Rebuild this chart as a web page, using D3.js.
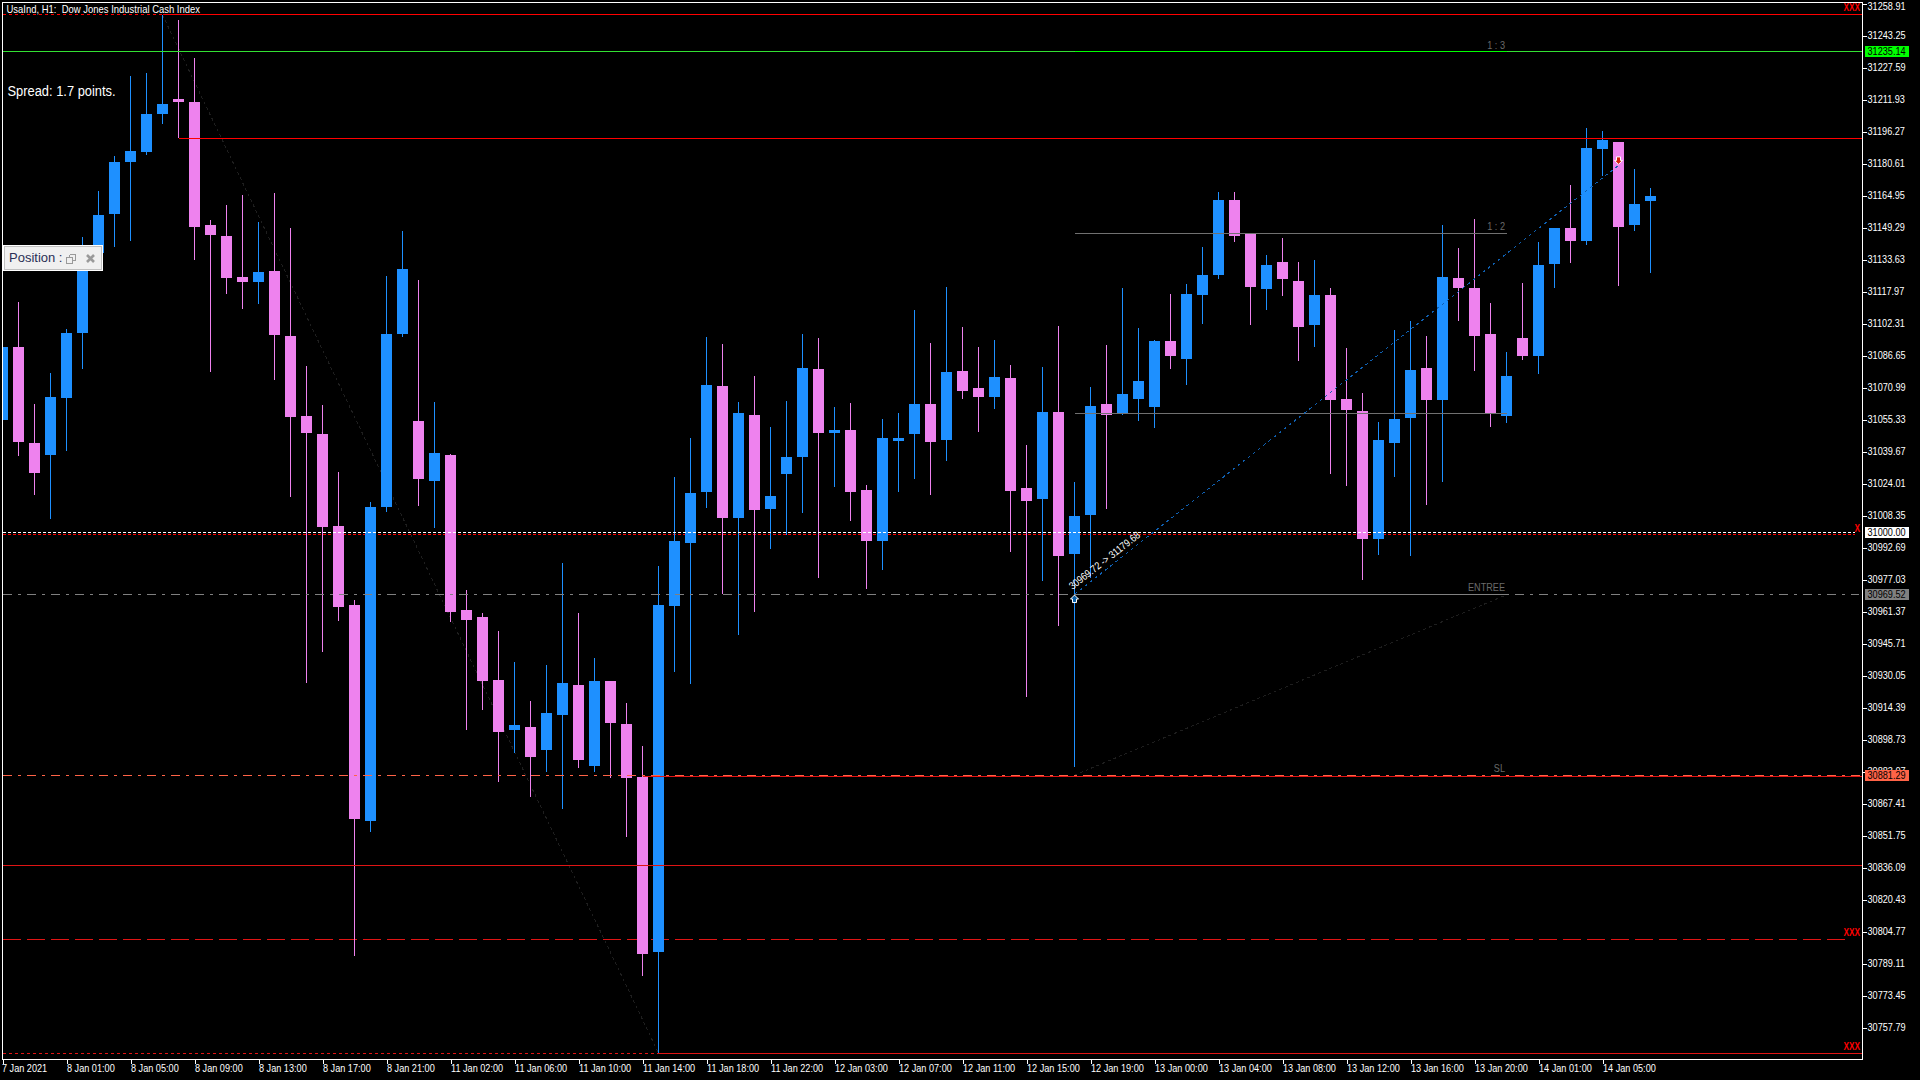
<!DOCTYPE html>
<html>
<head>
<meta charset="utf-8">
<script src="https://cdn.jsdelivr.net/npm/d3@7"></script>
<style>
html,body{margin:0;padding:0;background:#000;overflow:hidden}
svg{display:block}
text{font-family:"Liberation Sans",Arial,sans-serif;font-size:11px;fill:#fff}
</style>
</head>
<body>
<svg id="c" width="1920" height="1080"></svg>
<script>
const openPrices = [
31055.1,31090.8,31043.8,31038.0,31065.9,31097.7,31136.8,31155.9,31181.3,31186.2,
31204.8,31212.2,31210.7,31150.5,31145.1,31125.1,31122.6,31128.0,31096.2,31057.0,
31048.2,31003.2,30964.5,30858.8,31012.5,31097.2,31054.6,31025.2,31038.0,30962.1,
30958.7,30927.8,30903.4,30904.8,30893.6,30910.7,30925.4,30885.8,30927.4,30906.3,
30880.4,30794.7,30964.1,30994.9,31019.9,31071.7,31007.1,31057.5,31011.5,31028.7,
31037.0,31080.0,31048.7,31050.2,31020.8,30995.9,31044.8,31048.2,31062.9,31045.3,
31079.1,31070.7,31066.3,31075.6,31021.8,31016.4,31059.0,30989.5,31008.6,31062.9,
31058.5,31065.4,31061.4,31093.7,31084.9,31116.3,31126.0,31162.7,31146.6,31119.2,
31132.4,31123.1,31101.6,31116.3,31065.4,31059.5,30996.8,31043.8,31056.1,31080.5,
31064.9,31124.6,31119.7,31097.2,31057.0,31095.2,31086.4,31131.4,31149.0,31142.7,
31187.7,31191.1,31150.5,31162.3];
const highPrices = [
31094.2,31112.8,31062.9,31078.1,31099.6,31144.6,31167.2,31184.3,31223.4,31224.9,
31253.3,31250.8,31232.2,31153.0,31160.3,31165.2,31152.0,31166.2,31149.0,31081.5,
31062.4,31029.6,30967.0,31014.9,31125.5,31147.6,31123.6,31063.9,31038.4,30971.9,
30960.6,30951.8,30936.7,30917.6,30935.2,30985.1,30960.6,30938.6,30927.4,30916.6,
30895.5,30983.6,31027.2,31046.3,31095.7,31092.3,31063.9,31076.6,31051.7,31064.4,
31097.2,31095.2,31061.4,31063.4,31023.3,31055.6,31058.5,31108.9,31092.8,31120.2,
31100.6,31090.8,31094.2,31082.0,31042.9,31081.0,31101.1,31024.7,31071.2,31091.8,
31119.7,31100.1,31094.2,31116.7,31121.6,31139.7,31166.7,31166.7,31146.6,31135.8,
31144.2,31132.4,31133.4,31119.7,31090.3,31068.3,31054.1,31099.1,31103.5,31096.2,
31150.5,31139.3,31153.4,31112.3,31088.4,31122.1,31142.2,31149.0,31170.1,31198.0,
31196.5,31191.1,31177.9,31168.6];
const lowPrices = [
31050.2,31037.5,31018.4,31006.6,31039.9,31080.0,31134.4,31139.7,31142.7,31184.8,
31199.9,31193.1,31133.4,31078.6,31116.7,31109.4,31111.9,31074.7,31017.4,30926.4,
30941.5,30956.7,30792.8,30853.5,31010.1,31095.7,31013.0,31002.2,30956.2,30903.4,
30913.2,30877.9,30892.1,30870.6,30882.8,30864.7,30884.8,30882.8,30879.9,30851.0,
30783.0,30745.3,30931.8,30925.9,31012.0,30969.9,30949.9,30961.1,30992.0,30998.8,
31009.6,30977.8,31022.3,31005.7,30972.4,30981.7,31019.9,31026.2,31018.4,31035.0,
31065.4,31049.2,31060.5,30990.5,30919.5,30976.3,30954.3,30885.3,30977.8,31011.5,
31057.5,31054.6,31051.2,31080.0,31072.2,31102.1,31124.1,31142.2,31101.6,31108.9,
31115.8,31084.0,31090.8,31028.7,31022.8,30976.8,30989.0,31027.2,30988.5,31013.5,
31024.7,31103.5,31079.1,31051.7,31053.6,31084.4,31077.6,31119.7,31131.9,31140.7,
31174.5,31120.7,31147.6,31127.0];
const closePrices = [
31090.8,31044.5,31029.1,31066.3,31097.7,31132.4,31155.4,31181.3,31186.7,31204.8,
31209.7,31210.7,31149.5,31145.6,31124.6,31122.6,31127.5,31096.7,31056.6,31048.7,
31002.7,30963.6,30859.8,31012.5,31097.2,31129.0,31026.2,31038.9,30961.1,30957.2,
30927.4,30902.4,30905.8,30890.2,30911.7,30926.4,30888.7,30927.4,30906.8,30879.9,
30793.8,30964.5,30995.9,31019.4,31072.2,31007.1,31058.5,31011.0,31017.9,31037.0,
31080.5,31048.7,31050.2,31019.9,30995.9,31046.3,31046.3,31062.9,31044.3,31078.6,
31069.3,31066.3,31076.1,31020.3,31015.4,31059.0,30988.5,31008.1,31061.9,31057.5,
31067.8,31074.2,31093.7,31086.4,31116.7,31126.0,31162.7,31145.1,31120.2,31130.9,
31124.1,31100.6,31116.3,31064.9,31060.0,30996.8,31045.3,31055.6,31079.6,31064.9,
31125.1,31119.7,31096.2,31058.0,31076.6,31086.4,31130.9,31149.0,31142.7,31188.2,
31192.1,31149.5,31160.8,31164.7];

const priceTicks = [31258.91,31243.25,31227.59,31211.93,31196.27,31180.61,31164.95,31149.29,31133.63,31117.97,
31102.31,31086.65,31070.99,31055.33,31039.67,31024.01,31008.35,30992.69,30977.03,30961.37,30945.71,30930.05,
30914.39,30898.73,30883.07,30867.41,30851.75,30836.09,30820.43,30804.77,30789.11,30773.45,30757.79];

const timeTickBars = [0,4,8,12,16,20,24,28,32,36,40,44,48,52,56,60,64,68,72,76,80,84,88,92,96,100];
const timeLabels = ["7 Jan 2021","8 Jan 01:00","8 Jan 05:00","8 Jan 09:00","8 Jan 13:00","8 Jan 17:00","8 Jan 21:00",
"11 Jan 02:00","11 Jan 06:00","11 Jan 10:00","11 Jan 14:00","11 Jan 18:00","11 Jan 22:00","12 Jan 03:00","12 Jan 07:00",
"12 Jan 11:00","12 Jan 15:00","12 Jan 19:00","13 Jan 00:00","13 Jan 04:00","13 Jan 08:00","13 Jan 12:00","13 Jan 16:00",
"13 Jan 20:00","14 Jan 01:00","14 Jan 05:00"];

const tagPrices = [31235.14,31000.00,30969.52,30881.29];
const tagColors = ["#00ff00","#ffffff","#808080","#ff6347"];

const P_TOP = 31253.5, P_RES = 31192.94, P_TP2 = 31146.45, P_MID = 31058.36, P_LOW1 = 30836.97, P_LOW2 = 30801.0, P_BOT = 30745.2;
const P_TP3 = 31235.4, P_ROUND = 31000, P_ENTRY = 30969.52, P_SL = 30881.29;
const tradeOpen = 30969.72, tradeClose = 31179.68;

const svg = d3.select("#c");
const x = d3.scaleLinear().domain([0,103]).range([2.5,1650.5]);
const y = d3.scaleLinear().domain([priceTicks[0],priceTicks[priceTicks.length-1]]).range([3.5,1027.5]);
const LEFT=2.5, RIGHT=1862.5, TOPF=2.5, BOTF=1059.5;

// same font height as the reference's tall narrow bitmap face: keep the size, condense the glyphs
function squeeze(sel,k){
  sel.each(function(){
    const w=this.getComputedTextLength();
    d3.select(this).attr("textLength",w*k).attr("lengthAdjust","spacingAndGlyphs");
  });
  return sel;
}
function hline(g,p,x0,x1,color,dash){
  const yy=Math.floor(y(p))+.5;
  g.append("line").attr("x1",x0).attr("x2",x1).attr("y1",yy).attr("y2",yy)
   .attr("stroke",color).attr("stroke-width",1).attr("shape-rendering","crispEdges")
   .attr("stroke-dasharray",dash||null);
}
function sline(g,i0,p0,i1,p1,color,dash){
  g.append("line").attr("x1",x(i0)).attr("x2",x(i1)).attr("y1",y(p0)).attr("y2",y(p1))
   .attr("stroke",color).attr("stroke-width",1).attr("stroke-dasharray",dash).attr("shape-rendering","crispEdges");
}

const clip = svg.append("defs");
clip.append("clipPath").attr("id","plot").append("rect").attr("x",LEFT).attr("y",TOPF).attr("width",RIGHT-LEFT).attr("height",BOTF-TOPF);
clip.append("clipPath").attr("id","posclip").append("rect").attr("x",6).attr("y",246).attr("width",56).attr("height",24);

const plot = svg.append("g").attr("clip-path","url(#plot)");

// behind the candles
const back = plot.append("g");
hline(back,P_LOW2,LEFT,RIGHT-14,"#e01414","18,6");
hline(back,P_ROUND-1,LEFT,RIGHT-8,"#ff0000","3,2");
sline(back,10,highPrices[10],41,lowPrices[41],"#1e1e1e","3,3");
sline(back,67,P_SL,94,P_ENTRY,"#1e1e1e","3,3");

// candles
const bars = d3.range(openPrices.length);
const candles = plot.append("g").attr("shape-rendering","crispEdges");
const colorOf = i => closePrices[i] >= openPrices[i] ? "#1e90ff" : "#ee82ee";
candles.selectAll("line").data(bars).join("line")
  .attr("x1",i=>x(i)).attr("x2",i=>x(i))
  .attr("y1",i=>y(highPrices[i])).attr("y2",i=>y(lowPrices[i]))
  .attr("stroke",colorOf).attr("stroke-width",1);
candles.selectAll("rect").data(bars).join("rect")
  .attr("x",i=>x(i)-5.5).attr("width",11)
  .attr("y",i=>y(Math.max(openPrices[i],closePrices[i])))
  .attr("height",i=>Math.max(1,Math.abs(y(openPrices[i])-y(closePrices[i]))))
  .attr("fill",colorOf);

// over the candles
const front = plot.append("g");
hline(front,P_TOP,LEFT,RIGHT,"#ff0000","3,3");
hline(front,P_TOP,x(10),RIGHT,"#ff0000");
hline(front,P_TP3,LEFT,RIGHT,"#32e032");
hline(front,P_TP3,x(67),x(94),"#00ff00");
hline(front,P_RES,x(11),RIGHT,"#ff0000");
hline(front,P_TP2,x(67),x(94),"#707070");
hline(front,P_MID,x(67),x(94),"#707070");
hline(front,P_ROUND,LEFT,RIGHT-8,"#ffffff","3,2");
hline(front,P_ENTRY,LEFT,RIGHT-4,"#808080","9,6,3,6");
hline(front,P_ENTRY,x(67),x(94),"#808080");
hline(front,P_SL,LEFT,RIGHT,"#ff6347","9,6,3,6");
hline(front,P_SL-0.6,x(40),RIGHT,"#e01414");
hline(front,P_LOW1,LEFT,RIGHT,"#e01414");
hline(front,P_BOT,LEFT,RIGHT,"#e01414","3,3");
hline(front,P_BOT,x(41),RIGHT,"#e01414");
sline(front,67,tradeOpen,101,tradeClose,"#0f5fb0","3,3.5");

// trade arrows
front.append("path").attr("transform",`translate(${x(67)},${y(tradeOpen)+0.6})`)
  .attr("d","M0,0 L4,4 L2,4 L2,7.5 L-2,7.5 L-2,4 L-4,4 Z").attr("fill","#0a5fa8").attr("stroke","#fff").attr("stroke-width",1);
front.append("path").attr("transform",`translate(${x(101)},${y(tradeClose)-1})`)
  .attr("d","M0,0 L4,-4 L2,-4 L2,-7.5 L-2,-7.5 L-2,-4 L-4,-4 Z").attr("fill","#d8200c").attr("stroke","#fff").attr("stroke-width",1);

// trade label and level labels
squeeze(front.append("text").attr("transform","translate(1105,561) rotate(-38)").attr("text-anchor","middle").attr("dominant-baseline","middle")
  .style("font-size","10.5px").text("30969.72 -> 31179.68"),0.85);
const grey = "#6a6a6a";
function lvl(t,xr,yc){squeeze(front.append("text").attr("x",xr).attr("y",yc).attr("text-anchor","end").attr("dominant-baseline","middle").style("fill",grey).text(t),0.83);}
lvl("1 : 3",1505,46);
lvl("1 : 2",1505,226.7);
lvl("ENTREE",1505,587.7);
lvl("SL",1505,769);
function xxx(t,xr,yc){squeeze(plot.append("text").attr("x",xr).attr("y",yc).attr("text-anchor","end").attr("dominant-baseline","middle").style("fill","#ff0000").style("font-size","10px").style("font-weight","bold").text(t),0.83);}
xxx("XXX",1860,8);
xxx("X",1860,529);
xxx("XXX",1860,933);
xxx("XXX",1860,1047);

// axes
const yAxis = d3.axisRight(y).tickValues(priceTicks).tickFormat(d=>d.toFixed(2)).tickSize(4).tickSizeOuter(0).tickPadding(1);
const gy = svg.append("g").attr("transform",`translate(${RIGHT},0)`).call(yAxis);
const xAxis = d3.axisBottom(x).tickValues(timeTickBars).tickFormat((d,i)=>timeLabels[i]).tickSize(4).tickSizeOuter(0).tickPadding(1);
const gx = svg.append("g").attr("transform",`translate(0,${BOTF})`).call(xAxis);
gy.select(".domain").remove(); gx.select(".domain").remove();
for (const g of [gx,gy]) {
  g.attr("font-family",null).attr("font-size",null);
  g.selectAll("line").attr("stroke","#fff").attr("shape-rendering","crispEdges");
  g.selectAll("text").attr("fill",null);
}
gy.selectAll("text").attr("dy",null).attr("dominant-baseline","middle");
gy.selectAll(".tick").filter((d,i)=>i===0).select("text").attr("y",3);
gx.selectAll("text").attr("text-anchor","start").attr("dy",null).attr("y",9.5).attr("dominant-baseline","middle");
gx.selectAll(".tick").filter((d,i)=>i===0).select("text").attr("x",-1);
squeeze(gy.selectAll("text"),0.83);
squeeze(gx.selectAll("text"),0.83);

// frame
svg.append("rect").attr("x",LEFT).attr("y",TOPF).attr("width",RIGHT-LEFT).attr("height",BOTF-TOPF)
  .attr("fill","none").attr("stroke","#fff").attr("stroke-width",1).attr("shape-rendering","crispEdges");

// price tags
const tags = svg.append("g").selectAll("g").data(tagPrices).join("g").attr("transform",d=>`translate(1865,${Math.round(y(d)-0.6)-5})`);
tags.append("rect").attr("width",44).attr("height",11).attr("fill",(d,i)=>tagColors[i]);
squeeze(tags.append("text").attr("x",2.5).attr("y",6).attr("dominant-baseline","middle").style("fill","#000").text(d=>d.toFixed(2)),0.83);

// titles
squeeze(svg.append("text").attr("x",6.5).attr("y",10).attr("dominant-baseline","middle").attr("xml:space","preserve").style("white-space","pre")
  .text("UsaInd, H1:  Dow Jones Industrial Cash Index"),0.86);
squeeze(svg.append("text").attr("x",7.5).attr("y",92).attr("dominant-baseline","middle").style("font-size","14px").text("Spread: 1.7 points."),0.92);

// position panel
const pos = svg.append("g");
pos.append("rect").attr("x",3).attr("y",245).attr("width",100).attr("height",26).attr("fill","#fff").attr("shape-rendering","crispEdges");
pos.append("rect").attr("x",4.5).attr("y",246.5).attr("width",97).attr("height",23).attr("fill","#f0f0f0").attr("stroke","#c0c0c0").attr("shape-rendering","crispEdges");
pos.append("g").attr("clip-path","url(#posclip)").append("text").attr("x",9).attr("y",258.5).attr("dominant-baseline","middle")
  .style("fill","#2a2f55").style("font-size","13px").text("Position :");
pos.append("path").attr("d","M69.5,254.5 h6 v6 h-2.5 M69.5,254.5 v2.5 M66.5,257.5 h6 v6 h-6 Z").attr("fill","none").attr("stroke","#9a9a9a").attr("shape-rendering","crispEdges");
pos.append("path").attr("d","M87,255 L94,262 M94,255 L87,262").attr("fill","none").attr("stroke","#9a9a9a").attr("stroke-width",2.6);
</script>
</body>
</html>
